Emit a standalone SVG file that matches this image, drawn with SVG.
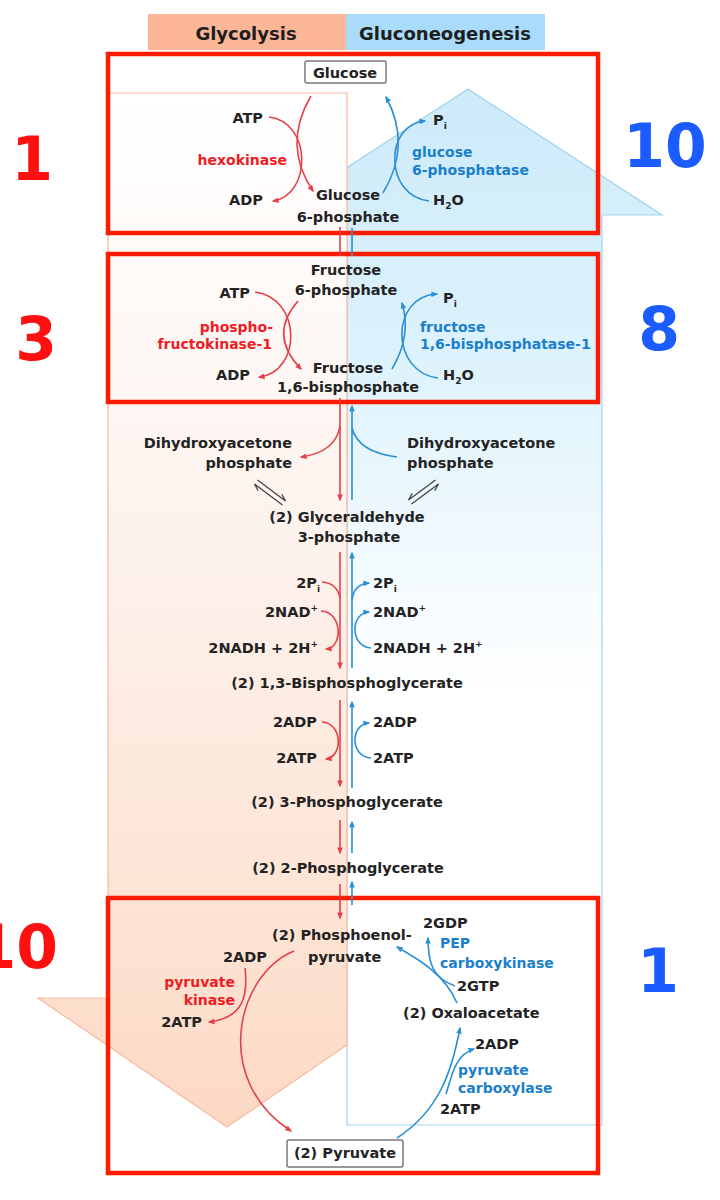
<svg xmlns="http://www.w3.org/2000/svg" width="720" height="1200" viewBox="0 0 720 1200">
<defs>
<linearGradient id="gly" gradientUnits="userSpaceOnUse" x1="0" y1="93" x2="0" y2="1127">
<stop offset="0" stop-color="#ffffff"/>
<stop offset="0.45" stop-color="#fdf2ec"/>
<stop offset="0.85" stop-color="#fde1d0"/>
<stop offset="1" stop-color="#fcd8c3"/>
</linearGradient>
<linearGradient id="glu" gradientUnits="userSpaceOnUse" x1="0" y1="89" x2="0" y2="1125">
<stop offset="0" stop-color="#cdeaf9"/>
<stop offset="0.25" stop-color="#dcf2fc"/>
<stop offset="0.58" stop-color="#ffffff"/>
<stop offset="1" stop-color="#ffffff"/>
</linearGradient>
<marker id="ar" viewBox="0 0 10 10" refX="8" refY="5" markerWidth="7" markerHeight="7" markerUnits="userSpaceOnUse" orient="auto"><path d="M0,1 L10,5 L0,9 z" fill="#e5404a"/></marker>
<marker id="ab" viewBox="0 0 10 10" refX="8" refY="5" markerWidth="7" markerHeight="7" markerUnits="userSpaceOnUse" orient="auto"><path d="M0,1 L10,5 L0,9 z" fill="#2b8fd4"/></marker>
</defs>
<style>
.t{font-family:"DejaVu Sans",sans-serif;font-weight:bold;font-size:14.5px;fill:#232323}
.er{font-family:"DejaVu Sans",sans-serif;font-weight:bold;font-size:14px;fill:#ee1c25}
.eb{font-family:"DejaVu Sans",sans-serif;font-weight:bold;font-size:14px;fill:#1b7fcc}
.h{font-family:"DejaVu Sans",sans-serif;font-weight:bold;font-size:18px;fill:#1e1e1e}
.nr{font-family:"DejaVu Sans",sans-serif;font-weight:bold;font-size:60px;fill:#ff1010}
.nb{font-family:"DejaVu Sans",sans-serif;font-weight:bold;font-size:60px;fill:#1a5cff}
.s{font-size:9px}
.rl{fill:none;stroke:#e5404a;stroke-width:1.6}
.bl{fill:none;stroke:#2b8fd4;stroke-width:1.6}
.eq{fill:none;stroke:#444;stroke-width:1.3}
.box{fill:none;stroke:#ff1a00;stroke-width:4.5}
.nbx{fill:#ffffff;stroke:#7a7a7a;stroke-width:1.5}
.m{text-anchor:middle}
.e{text-anchor:end}
</style>

<g id="background">
<polygon points="468,89 662,215 602,215 602,1125 347,1125 347,215 274,215" fill="url(#glu)" stroke="#9fd3f0" stroke-width="1.2"/>
<polygon points="108,93 347,93 347,1045 227,1127 38,998 108,998" fill="url(#gly)" stroke="#f7b9a0" stroke-width="1.2"/>
</g>

<g id="header">
<rect x="148" y="14" width="198" height="36" fill="#fbb597"/>
<rect x="346" y="14" width="199" height="36" fill="#a9dcfa"/>
<text class="h m" x="246" y="40">Glycolysis</text>
<text class="h m" x="445" y="40">Gluconeogenesis</text>
</g>

<g id="boxes">
<rect class="box" x="108" y="54" width="490" height="179"/>
<rect class="box" x="108" y="254" width="490" height="148"/>
<rect class="box" x="108" y="898" width="490" height="275"/>
</g>

<g id="numbers">
<text class="nr m" x="32" y="180">1</text>
<text class="nr m" x="36" y="360">3</text>
<text class="nr e" x="58" y="968">10</text>
<text class="nb m" x="665" y="167">10</text>
<text class="nb m" x="659" y="350">8</text>
<text class="nb m" x="658" y="992">1</text>
</g>

<g id="connectors">
<path class="rl" d="M311,96 Q282,145 313,191" marker-end="url(#ar)"/>
<path class="rl" d="M269,117 C312,122 312,195 273,201" marker-end="url(#ar)"/>
<path class="bl" d="M383,193 Q412,145 386,97" marker-end="url(#ab)"/>
<path class="bl" d="M429,201 C384,196 384,124 425,121" marker-end="url(#ab)"/>
<line class="rl" x1="340" y1="227" x2="340" y2="256"/>
<line class="bl" x1="352" y1="256" x2="352" y2="228"/>
<path class="rl" d="M298,301 Q268,335 301,369" marker-end="url(#ar)"/>
<path class="rl" d="M255,292 C302,298 302,372 259,377" marker-end="url(#ar)"/>
<path class="bl" d="M392,369 Q412,335 402,303" marker-end="url(#ab)"/>
<path class="bl" d="M438,378 C390,372 390,296 437,294" marker-end="url(#ab)"/>
<line class="rl" x1="340" y1="398" x2="340" y2="500" marker-end="url(#ar)"/>
<line class="bl" x1="352" y1="500" x2="352" y2="406" marker-end="url(#ab)"/>
<path class="rl" d="M340,426 Q336,452 301,457" marker-end="url(#ar)"/>
<path class="bl" d="M397,457 Q358,452 352,428"/>
<path class="eq" d="M257.5,480 L285.5,501 L281.8,494.3"/>
<path class="eq" d="M282.5,505 L254.5,484 L258.2,490.7"/>
<path class="eq" d="M435.5,480 L408.5,500 L412.3,493.4"/>
<path class="eq" d="M411.5,504 L438.5,484 L434.7,490.6"/>
<line class="rl" x1="340" y1="552" x2="340" y2="668" marker-end="url(#ar)"/>
<line class="bl" x1="352" y1="668" x2="352" y2="553" marker-end="url(#ab)"/>
<path class="rl" d="M322,582 Q337,583 340,598"/>
<path class="rl" d="M321,611 C343,612 343,648 326,649" marker-end="url(#ar)"/>
<path class="bl" d="M352,600 Q354,584 369,583" marker-end="url(#ab)"/>
<path class="bl" d="M371,648 C350,647 350,613 369,612" marker-end="url(#ab)"/>
<line class="rl" x1="340" y1="700" x2="340" y2="786" marker-end="url(#ar)"/>
<line class="bl" x1="352" y1="788" x2="352" y2="702" marker-end="url(#ab)"/>
<path class="rl" d="M322,722 C343,723 343,757 326,759" marker-end="url(#ar)"/>
<path class="bl" d="M371,758 C350,757 350,724 369,723" marker-end="url(#ab)"/>
<line class="rl" x1="340" y1="820" x2="340" y2="853" marker-end="url(#ar)"/>
<line class="bl" x1="352" y1="853" x2="352" y2="822" marker-end="url(#ab)"/>
<line class="rl" x1="340" y1="884" x2="340" y2="918" marker-end="url(#ar)"/>
<line class="bl" x1="352" y1="905" x2="352" y2="882" marker-end="url(#ab)"/>
<path class="rl" d="M294,951 C236,975 212,1080 291,1131" marker-end="url(#ar)"/>
<path class="rl" d="M245,968 C248,995 244,1018 209,1022" marker-end="url(#ar)"/>
<path class="bl" d="M397,1138 C440,1110 452,1070 460,1028" marker-end="url(#ab)"/>
<path class="bl" d="M446,1094 C452,1075 455,1055 474,1049" marker-end="url(#ab)"/>
<path class="bl" d="M457,1003 C445,975 420,960 397,947" marker-end="url(#ab)"/>
<path class="bl" d="M455,986 C432,978 428,962 428,938" marker-end="url(#ab)"/>
</g>

<g id="glucose"><rect class="nbx" x="305" y="61" width="81" height="22" rx="1.5"/><text class="t m" x="345" y="78">Glucose</text></g>
<g id="atp1"><text class="t e" x="263" y="123">ATP</text></g>
<g id="hexokinase"><text class="er e" x="287" y="165">hexokinase</text></g>
<g id="adp1"><text class="t e" x="263" y="205">ADP</text></g>
<g id="g6p"><text class="t m" x="348" y="200">Glucose</text><text class="t m" x="348" y="222">6-phosphate</text></g>
<g id="pi1"><text class="t" x="433" y="125">P<tspan class="s" dy="4">i</tspan></text></g>
<g id="g6pase"><text class="eb" x="412" y="157">glucose</text><text class="eb" x="412" y="175">6-phosphatase</text></g>
<g id="h2o1"><text class="t" x="433" y="205">H<tspan class="s" dy="4">2</tspan><tspan dy="-4">O</tspan></text></g>

<g id="f6p"><text class="t m" x="346" y="275">Fructose</text><text class="t m" x="346" y="295">6-phosphate</text></g>
<g id="atp2"><text class="t e" x="250" y="298">ATP</text></g>
<g id="pfk1"><text class="er e" x="273" y="332">phospho-</text><text class="er e" x="272" y="349">fructokinase-1</text></g>
<g id="adp2"><text class="t e" x="250" y="380">ADP</text></g>
<g id="f16bp"><text class="t m" x="348" y="373">Fructose</text><text class="t m" x="348" y="392">1,6-bisphosphate</text></g>
<g id="pi2"><text class="t" x="443" y="303">P<tspan class="s" dy="4">i</tspan></text></g>
<g id="fbpase1"><text class="eb" x="420" y="332">fructose</text><text class="eb" x="420" y="349">1,6-bisphosphatase-1</text></g>
<g id="h2o2"><text class="t" x="443" y="380">H<tspan class="s" dy="4">2</tspan><tspan dy="-4">O</tspan></text></g>

<g id="dhap-left"><text class="t e" x="292" y="448">Dihydroxyacetone</text><text class="t e" x="292" y="468">phosphate</text></g>
<g id="dhap-right"><text class="t" x="407" y="448">Dihydroxyacetone</text><text class="t" x="407" y="468">phosphate</text></g>
<g id="gap"><text class="t m" x="347" y="522">(2) Glyceraldehyde</text><text class="t m" x="349" y="542">3-phosphate</text></g>

<g id="pi-left"><text class="t e" x="320" y="588">2P<tspan class="s" dy="4">i</tspan></text></g>
<g id="nad-left"><text class="t e" x="318" y="617">2NAD<tspan class="s" dy="-6">+</tspan></text></g>
<g id="nadh-left"><text class="t e" x="318" y="653">2NADH + 2H<tspan class="s" dy="-6">+</tspan></text></g>
<g id="pi-right"><text class="t" x="373" y="588">2P<tspan class="s" dy="4">i</tspan></text></g>
<g id="nad-right"><text class="t" x="373" y="617">2NAD<tspan class="s" dy="-6">+</tspan></text></g>
<g id="nadh-right"><text class="t" x="373" y="653">2NADH + 2H<tspan class="s" dy="-6">+</tspan></text></g>
<g id="bpg"><text class="t m" x="347" y="688">(2) 1,3-Bisphosphoglycerate</text></g>

<g id="adp-left"><text class="t e" x="317" y="727">2ADP</text></g>
<g id="atp-left"><text class="t e" x="317" y="763">2ATP</text></g>
<g id="adp-right"><text class="t" x="373" y="727">2ADP</text></g>
<g id="atp-right"><text class="t" x="373" y="763">2ATP</text></g>
<g id="pg3"><text class="t m" x="347" y="807">(2) 3-Phosphoglycerate</text></g>
<g id="pg2"><text class="t m" x="348" y="873">(2) 2-Phosphoglycerate</text></g>

<g id="pep"><text class="t" x="272" y="940">(2) Phosphoenol-</text><text class="t" x="308" y="962">pyruvate</text></g>
<g id="adp3"><text class="t e" x="267" y="962">2ADP</text></g>
<g id="pk"><text class="er e" x="235" y="987">pyruvate</text><text class="er e" x="235" y="1005">kinase</text></g>
<g id="atp3"><text class="t e" x="202" y="1027">2ATP</text></g>
<g id="gdp"><text class="t" x="423" y="928">2GDP</text></g>
<g id="pepck"><text class="eb" x="440" y="948">PEP</text><text class="eb" x="440" y="968">carboxykinase</text></g>
<g id="gtp"><text class="t" x="457" y="991">2GTP</text></g>
<g id="oaa"><text class="t" x="403" y="1018">(2) Oxaloacetate</text></g>
<g id="adp4"><text class="t" x="475" y="1049">2ADP</text></g>
<g id="pc"><text class="eb" x="458" y="1075">pyruvate</text><text class="eb" x="458" y="1093">carboxylase</text></g>
<g id="atp4"><text class="t" x="440" y="1114">2ATP</text></g>
<g id="pyruvate"><rect class="nbx" x="287" y="1140" width="116" height="27" rx="2"/><text class="t m" x="345" y="1158">(2) Pyruvate</text></g>
</svg>
